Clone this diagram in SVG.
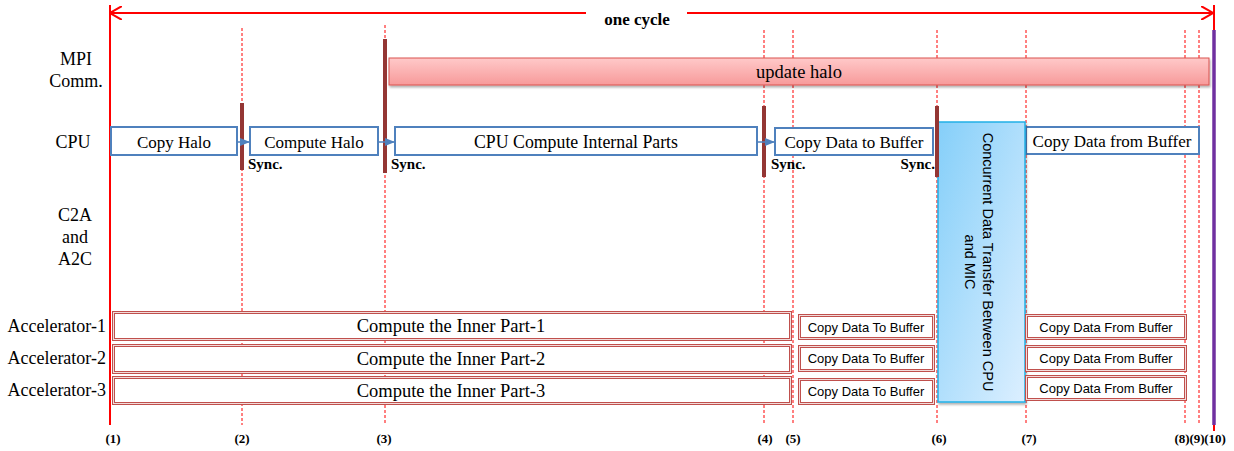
<svg xmlns="http://www.w3.org/2000/svg" width="1234" height="451" viewBox="0 0 1234 451">
<defs>
<style>
.lbl{font-family:"Liberation Serif",serif;font-size:18px;fill:#000}
.box{font-family:"Liberation Serif",serif;font-size:17px;fill:#000;text-anchor:middle}
.big{font-family:"Liberation Serif",serif;font-size:18.5px;fill:#000;text-anchor:middle}
.sm{font-family:"Liberation Sans",Arial,sans-serif;font-size:13px;fill:#000;text-anchor:middle}
.sync{font-family:"Liberation Serif",serif;font-size:15px;font-weight:bold;fill:#000}
.num{font-family:"Liberation Serif",serif;font-size:13px;font-weight:bold;fill:#000;text-anchor:middle}
.cpu{fill:#fff;stroke:#4f81bd;stroke-width:2}
.acc{fill:#fff;stroke:#c0504d;stroke-width:3}
.acci{fill:none;stroke:#f2dcdb;stroke-width:1}
.dash{stroke:#ff0000;stroke-width:1;stroke-dasharray:3,2}
.bar{stroke:#943634;stroke-width:4}
</style>
<marker id="ah" viewBox="0 0 10 10" refX="10" refY="5" markerWidth="10" markerHeight="10" markerUnits="userSpaceOnUse" orient="auto">
<path d="M0,1 L10,5 L0,9 Z" fill="#4f81bd"/>
</marker>
<marker id="open" viewBox="0 0 12 14" refX="12" refY="7" markerWidth="12" markerHeight="14" markerUnits="userSpaceOnUse" orient="auto-start-reverse">
<path d="M0,0 L12,7 L0,14" fill="none" stroke="#ff0000" stroke-width="2"/>
</marker>
<linearGradient id="pink" x1="0" y1="0" x2="0" y2="1">
<stop offset="0" stop-color="#ffc9c9"/>
<stop offset="1" stop-color="#f79a9a"/>
</linearGradient>
<linearGradient id="blue" x1="0" y1="0" x2="1" y2="1">
<stop offset="0" stop-color="#85cff9"/>
<stop offset="1" stop-color="#dcefff"/>
</linearGradient>
<filter id="sh" x="-5%" y="-10%" width="110%" height="130%">
<feDropShadow dx="1" dy="2" stdDeviation="1" flood-color="#000" flood-opacity="0.3"/>
</filter>
</defs>
<rect width="1234" height="451" fill="#fff"/>

<g id="timeline">
<line x1="110" y1="5" x2="110" y2="425" stroke="#ff0000" stroke-width="2"/>
<line x1="1214" y1="5" x2="1214" y2="30" stroke="#ff0000" stroke-width="2"/>
<line x1="1214" y1="425" x2="1214" y2="431" stroke="#ff0000" stroke-width="2"/>
<line x1="1214" y1="30" x2="1214" y2="425" stroke="#7030a0" stroke-width="3.5"/>
<line x1="586" y1="13" x2="110" y2="13" stroke="#ff0000" stroke-width="2" marker-end="url(#open)"/>
<line x1="687" y1="13" x2="1213" y2="13" stroke="#ff0000" stroke-width="2" marker-end="url(#open)"/>
<text x="637" y="25" class="sync" style="font-size:17px" text-anchor="middle">one cycle</text>
<line x1="242" y1="28" x2="242" y2="425" class="dash"/>
<line x1="385" y1="25" x2="385" y2="425" class="dash"/>
<line x1="764" y1="30" x2="764" y2="425" class="dash"/>
<line x1="793" y1="30" x2="793" y2="425" class="dash"/>
<line x1="937" y1="30" x2="937" y2="425" class="dash"/>
<line x1="1026" y1="30" x2="1026" y2="425" class="dash"/>
<line x1="1185" y1="30" x2="1185" y2="425" class="dash"/>
<line x1="1199" y1="30" x2="1199" y2="425" class="dash"/>
<text x="113" y="443" class="num">(1)</text>
<text x="242" y="443" class="num">(2)</text>
<text x="384" y="443" class="num">(3)</text>
<text x="765" y="443" class="num">(4)</text>
<text x="793" y="443" class="num">(5)</text>
<text x="939" y="443" class="num">(6)</text>
<text x="1029" y="443" class="num">(7)</text>
<text x="1182" y="443" class="num">(8)</text>
<text x="1197" y="443" class="num">(9)</text>
<text x="1215" y="443" class="num">(10)</text>
</g>

<g id="row-labels">
<text x="76" y="65" class="lbl" text-anchor="middle">MPI</text>
<text x="76" y="87" class="lbl" text-anchor="middle">Comm.</text>
<text x="73" y="148" class="lbl" text-anchor="middle">CPU</text>
<text x="75" y="221" class="lbl" text-anchor="middle">C2A</text>
<text x="75" y="243" class="lbl" text-anchor="middle">and</text>
<text x="75" y="265" class="lbl" text-anchor="middle">A2C</text>
<text x="106" y="332" class="lbl" text-anchor="end">Accelerator-1</text>
<text x="106" y="364" class="lbl" text-anchor="end">Accelerator-2</text>
<text x="106" y="396" class="lbl" text-anchor="end">Accelerator-3</text>
</g>

<g id="update-halo">
<rect x="389" y="58" width="820" height="27" fill="url(#pink)" stroke="#d9534f" stroke-width="1" filter="url(#sh)"/>
<text x="799" y="78" class="big">update halo</text>
</g>

<g id="cpu-copy-halo">
<rect x="111" y="127" width="126" height="28" class="cpu"/>
<text x="174" y="148" class="box">Copy Halo</text>
</g>
<g id="cpu-compute-halo">
<rect x="250" y="127" width="128" height="28" class="cpu"/>
<text x="314" y="148" class="box">Compute Halo</text>
</g>
<g id="cpu-internal">
<rect x="395" y="127" width="362" height="28" class="cpu"/>
<text x="576" y="148" class="box" style="font-size:17.8px">CPU Compute Internal Parts</text>
</g>
<g id="cpu-copy-to">
<rect x="775" y="128" width="158" height="27" class="cpu"/>
<text x="854" y="148" class="box">Copy Data to Buffer</text>
</g>
<g id="cpu-copy-from">
<rect x="1026" y="127" width="173" height="27" class="cpu"/>
<text x="1112" y="147" class="box">Copy Data from Buffer</text>
</g>

<g id="transfer">
<rect x="938" y="122" width="87" height="280" fill="url(#blue)" stroke="#22b0e6" stroke-width="1.5" filter="url(#sh)"/>
<text transform="translate(983,262) rotate(90)" x="0" y="0" font-family="Liberation Sans, Arial, sans-serif" font-size="14.5" text-anchor="middle">Concurrent Data Transfer Between CPU</text>
<text transform="translate(965,262) rotate(90)" x="0" y="0" font-family="Liberation Sans, Arial, sans-serif" font-size="14.5" text-anchor="middle">and MIC</text>
</g>

<g id="acc1-compute">
<rect x="113.5" y="312.5" width="677" height="27" class="acc"/><rect x="113.5" y="312.5" width="677" height="27" class="acci"/>
<text x="451" y="332" class="big">Compute the Inner Part-1</text>
</g>
<g id="acc2-compute">
<rect x="113.5" y="345.5" width="677" height="27" class="acc"/><rect x="113.5" y="345.5" width="677" height="27" class="acci"/>
<text x="451" y="365" class="big">Compute the Inner Part-2</text>
</g>
<g id="acc3-compute">
<rect x="113.5" y="377.5" width="677" height="26" class="acc"/><rect x="113.5" y="377.5" width="677" height="26" class="acci"/>
<text x="451" y="397" class="big">Compute the Inner Part-3</text>
</g>
<g id="acc1-to">
<rect x="799.5" y="315.5" width="134" height="23" class="acc"/><rect x="799.5" y="315.5" width="134" height="23" class="acci"/>
<text x="866" y="332" class="sm">Copy Data To Buffer</text>
</g>
<g id="acc2-to">
<rect x="799.5" y="346.5" width="134" height="24" class="acc"/><rect x="799.5" y="346.5" width="134" height="24" class="acci"/>
<text x="866" y="363" class="sm">Copy Data To Buffer</text>
</g>
<g id="acc3-to">
<rect x="799.5" y="379.5" width="134" height="24" class="acc"/><rect x="799.5" y="379.5" width="134" height="24" class="acci"/>
<text x="866" y="396" class="sm">Copy Data To Buffer</text>
</g>
<g id="acc1-from">
<rect x="1026.5" y="315.5" width="159" height="23" class="acc"/><rect x="1026.5" y="315.5" width="159" height="23" class="acci"/>
<text x="1106" y="332" class="sm">Copy Data From Buffer</text>
</g>
<g id="acc2-from">
<rect x="1026.5" y="346.5" width="159" height="24" class="acc"/><rect x="1026.5" y="346.5" width="159" height="24" class="acci"/>
<text x="1106" y="363" class="sm">Copy Data From Buffer</text>
</g>
<g id="acc3-from">
<rect x="1026.5" y="376.5" width="159" height="23" class="acc"/><rect x="1026.5" y="376.5" width="159" height="23" class="acci"/>
<text x="1106" y="393" class="sm">Copy Data From Buffer</text>
</g>

<g id="sync-bars">
<line x1="242" y1="103" x2="242" y2="170" class="bar"/>
<line x1="385" y1="39" x2="385" y2="173" class="bar"/>
<line x1="764" y1="106" x2="764" y2="177" class="bar"/>
<line x1="937" y1="106" x2="937" y2="177" class="bar"/>
<text x="248" y="169" class="sync">Sync.</text>
<text x="391" y="169" class="sync">Sync.</text>
<text x="771" y="169" class="sync">Sync.</text>
<text x="935" y="169" class="sync" text-anchor="end">Sync.</text>
</g>

<g id="connectors">
<line x1="237" y1="142" x2="250" y2="142" stroke="#4f81bd" stroke-width="1.5" marker-end="url(#ah)"/>
<line x1="378" y1="142" x2="395" y2="142" stroke="#4f81bd" stroke-width="1.5" marker-end="url(#ah)"/>
<line x1="757" y1="142" x2="775" y2="142" stroke="#4f81bd" stroke-width="1.5" marker-end="url(#ah)"/>
</g>
</svg>
